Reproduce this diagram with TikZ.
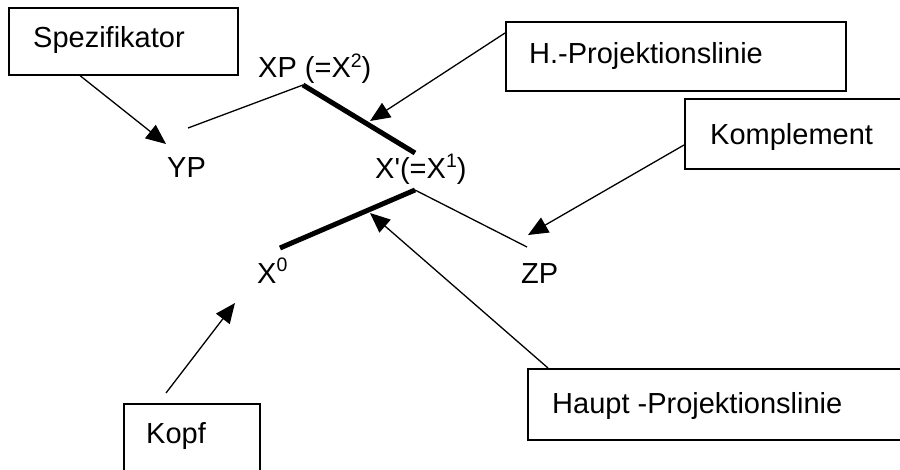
\documentclass[tikz,border=0pt]{standalone}
\usepackage{fontspec}
\setmainfont{Liberation Sans}
\usetikzlibrary{arrows.meta}
\newcommand\supr[2]{\raisebox{#1pt}{\fontsize{19.5}{19.5}\selectfont #2}}
\begin{document}
\begin{tikzpicture}[x=1pt,y=-1pt,
  lbl/.style={inner sep=0pt,anchor=base west,font=\fontsize{29}{34}\selectfont},
  framebox/.style={draw,line width=1.6pt,inner sep=0pt,anchor=north west},
  thinline/.style={line width=1.3pt},
  thickline/.style={line width=5pt},
  pointer/.style={line width=1.3pt,-{Triangle[length=20pt,width=17pt]}}]
\clip (0,0) rectangle (900,469);
\useasboundingbox (0,0) rectangle (900,469);
% boxes
\node[framebox,minimum width=229pt,minimum height=67pt] (spezbox) at (8,7) {};
\node[lbl] (spez) at (33,47) {Spezifikator};
\node[framebox,minimum width=340pt,minimum height=69pt] (hbox) at (505,21) {};
\node[lbl] (htxt) at (529,63) {H.-Projektionslinie};
\node[framebox,minimum width=230pt,minimum height=70pt] (kbox) at (684,98) {};
\node[lbl] (ktxt) at (710,144) {Komplement};
\node[framebox,minimum width=136pt,minimum height=80pt] (kopfbox) at (123,403) {};
\node[lbl] (kopf) at (146,443) {Kopf};
\node[framebox,minimum width=390pt,minimum height=71pt] (hauptbox) at (527,368) {};
\node[lbl] (haupt) at (552,413) {Haupt -Projektionslinie};
% tree labels
\node[lbl] (xp) at (258,77) {XP (=X\supr{10}{2})};
\node[lbl] (yp) at (167,177) {YP};
\node[lbl] (xbar) at (375,178) {X\textquotesingle(=X\supr{11}{1})};
\node[lbl] (x0) at (257,283) {X\supr{12}{0}};
\node[lbl] (zp) at (521,283) {ZP};
% tree line endpoints
\coordinate (yptop) at (188,128);
\coordinate (xpbot) at (303,85);
\coordinate (xbartop) at (415,153);
\coordinate (xbarbot) at (415,190);
\coordinate (zptop) at (527,247);
\coordinate (x0top) at (280,248);
\draw[thinline] (yptop) -- (xpbot);
\draw[thickline] (xpbot) -- (xbartop);
\draw[thinline] (xbarbot) -- (zptop);
\draw[thickline] (x0top) -- (xbarbot);
% arrow tips
\coordinate (tipyp) at (166,144);
\coordinate (tiph) at (370,121);
\coordinate (tipzp) at (528,235);
\coordinate (tipx0) at (235,303);
\coordinate (tiphaupt) at (370,213);
\draw[pointer] ([xshift=72pt]spezbox.south west) -- (tipyp);
\draw[pointer] ([yshift=-12pt]hbox.north west) -- (tiph);
\draw[pointer] ([yshift=-47pt]kbox.north west) -- (tipzp);
\draw[pointer] ([xshift=43pt,yshift=10pt]kopfbox.north west) -- (tipx0);
\draw[pointer] ([xshift=21pt]hauptbox.north west) -- (tiphaupt);
\end{tikzpicture}
\end{document}
